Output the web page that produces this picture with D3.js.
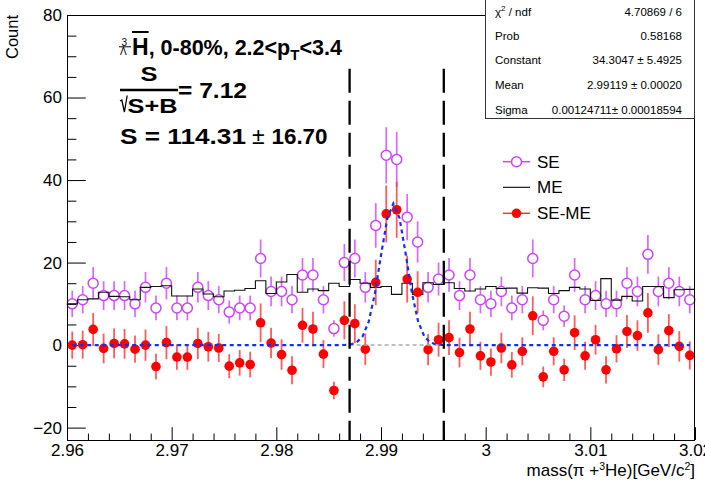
<!DOCTYPE html>
<html>
<head>
<meta charset="utf-8">
<script src="https://cdn.jsdelivr.net/npm/d3@7"></script>
<style>
  html, body { margin: 0; padding: 0; background: #fff; }
  svg { display: block; font-family: "Liberation Sans", Arial, Helvetica, sans-serif; }
</style>
</head>
<body>
<svg id="chart" width="705" height="481"></svg>
<script>
// Histogram binning: 60 bins of 1 MeV between 2.96 and 3.02 GeV/c^2
const xMin = 2.96, xMax = 3.02, nBins = 60;
const yMin = -23, yMax = 80;

// Same-event counts
const seCounts = [10,11,15,12,12,12,10,14,9,15, 9,9,14,12,11,8,9,9,21,13,
                  13,11,17,17,11,4,20,21,14,29, 46,45,31,25,14,16,17,12,17,11,
                  10,13,9,11,21,6,11,7,17,11, 12,10,10,15,13,22,13,15,13,11];
const seErr = [3.2,3.3,3.9,3.5,3.5,3.5,3.2,3.7,3.0,3.9, 3.0,3.0,3.7,3.5,3.3,2.8,3.0,3.0,4.6,3.6,
               3.6,3.3,4.1,4.1,3.3,2.0,4.5,4.6,3.7,5.4, 6.8,6.7,5.6,5.0,3.7,4.0,4.1,3.5,4.1,3.3,
               3.2,3.6,3.0,3.3,4.6,2.4,3.3,2.6,4.1,3.3, 3.5,3.2,3.2,3.9,3.6,4.7,3.6,3.9,3.6,3.3];

// Mixed-event background (normalised)
const meCounts = [10.0,11.0,11.2,12.8,11.8,11.7,11.0,14.0,14.2,14.4, 11.9,11.9,13.6,12.4,11.7,13.1,13.3,13.7,15.6,12.5,
                  15.3,17.1,12.8,13.6,13.2,15.0,14.2,15.9,15.0,14.0, 14.2,12.3,15.0,12.3,15.1,14.7,15.1,13.7,13.1,13.6,
                  14.2,13.7,13.8,12.6,13.9,13.8,12.5,13.2,14.0,13.6, 10.8,16.1,10.9,11.8,10.7,14.2,14.2,11.5,13.4,13.5];

// Background-subtracted signal (SE - ME)
const diffCounts = [0.0,0.1,3.8,-0.8,0.4,0.3,-1.0,0.0,-5.2,0.6, -2.9,-2.9,0.4,-0.4,-0.7,-5.1,-4.3,-4.7,5.4,0.5,
                    -2.3,-6.1,4.8,3.9,-2.2,-11.0,6.0,5.2,-1.0,15.2, 31.8,32.8,16.0,12.8,-1.1,1.3,1.8,-1.8,3.9,-2.6,
                    -4.1,-0.7,-4.8,-1.5,7.1,-7.7,-1.5,-6.0,3.0,-2.6, 1.3,-6.0,-0.9,3.3,2.3,7.8,-1.1,3.5,-0.3,-2.5];
const diffErr = [3.3,3.4,4.0,3.6,3.6,3.6,3.3,3.8,3.1,4.0, 3.1,3.1,3.8,3.6,3.4,2.9,3.1,3.1,4.7,3.7,
                 3.7,3.4,4.2,4.2,3.4,2.1,4.6,4.7,3.8,5.5, 6.9,6.8,5.7,5.1,3.8,4.1,4.2,3.6,4.2,3.4,
                 3.3,3.7,3.1,3.4,4.7,2.5,3.4,2.7,4.2,3.4, 3.6,3.3,3.3,4.0,3.7,4.8,3.7,4.0,3.7,3.4];

// Gaussian fit result
const fitConstant = 34.3047, fitMean = 2.99119, fitSigma = 0.00124711;
const statsRows = [
  ["\u03c7|2| / ndf", "4.70869 / 6"],
  ["Prob", "0.58168"],
  ["Constant", "34.3047 \u00b1 5.4925"],
  ["Mean", "2.99119 \u00b1 0.00020"],
  ["Sigma", "0.00124711\u00b1 0.00018594"]
];

// Signal window and axis ticks
const windowLow = 2.987, windowHigh = 2.996, windowTop = 67;
const xMajorTicks = [2.96, 2.97, 2.98, 2.99, 3.00, 3.01, 3.02];
const yMajorTicks = [-20, 0, 20, 40, 60, 80];
const legendLabels = ["SE", "ME", "SE-ME"];

const seColor = "#cc44ff", diffColor = "#ff0000", fitColor = "#1030ff";

const svg = d3.select("#chart");
const frame = { left: 67, right: 695, top: 15, bottom: 440 };
const x = d3.scaleLinear().domain([xMin, xMax]).range([frame.left, frame.right]);
const y = d3.scaleLinear().domain([yMin, yMax]).range([frame.bottom, frame.top]);
const binW = (xMax - xMin) / nBins;
const centers = d3.range(nBins).map(i => xMin + (i + 0.5) * binW);

// ---- axes (ticks drawn inside the frame) ----
const xMinor = d3.range(0, 31).map(i => xMin + i * 0.002).filter((v, i) => i % 5 !== 0);
const yMinor = d3.range(-20, 81, 5).filter(v => v % 20 !== 0);

const gx = svg.append("g").attr("transform", `translate(0,${frame.bottom})`);
gx.call(d3.axisBottom(x).tickValues(xMajorTicks).tickSize(-12.8).tickPadding(4)
  .tickFormat(d => String(+d.toFixed(2))));
gx.append("g").call(d3.axisBottom(x).tickValues(xMinor).tickSize(-6.4).tickFormat(""));
const gy = svg.append("g").attr("transform", `translate(${frame.left},0)`);
gy.call(d3.axisLeft(y).tickValues(yMajorTicks).tickSize(-18.8).tickPadding(5));
gy.append("g").call(d3.axisLeft(y).tickValues(yMinor).tickSize(-9.4).tickFormat(""));
svg.selectAll(".domain").remove();
svg.selectAll(".tick line").attr("stroke", "#000").attr("stroke-width", 1);
svg.selectAll(".tick text").attr("font-size", 17).attr("fill", "#000")
  .attr("font-family", "Liberation Sans, Arial, sans-serif");

// axis titles
const xt = svg.append("text").attr("x", frame.right).attr("y", 476).attr("text-anchor", "end")
  .attr("font-size", 17);
xt.append("tspan").text("mass(\u03c0 +");
xt.append("tspan").attr("font-size", 10.5).attr("dy", -6).text("3");
xt.append("tspan").attr("dy", 6).text("He)[GeV/c");
xt.append("tspan").attr("font-size", 10.5).attr("dy", -6).text("2");
xt.append("tspan").attr("dy", 6).text("]");
svg.append("text").attr("transform", `translate(18,${frame.top}) rotate(-90)`)
  .attr("text-anchor", "end").attr("font-size", 16.5).text("Count");

// ---- plot content ----
const plot = svg.append("g");

// SE: open circles with vertical error bars
const rSE = 5;
const se = plot.append("g");
centers.forEach((c, i) => {
  const cx = x(c), cy = y(seCounts[i]);
  se.append("line").attr("x1", cx).attr("x2", cx)
    .attr("y1", y(seCounts[i] + seErr[i])).attr("y2", cy - rSE)
    .attr("stroke", seColor).attr("stroke-width", 1.7).attr("stroke-opacity", 0.8);
  se.append("line").attr("x1", cx).attr("x2", cx)
    .attr("y1", cy + rSE).attr("y2", y(seCounts[i] - seErr[i]))
    .attr("stroke", seColor).attr("stroke-width", 1.7).attr("stroke-opacity", 0.8);
  se.append("circle").attr("cx", cx).attr("cy", cy).attr("r", rSE)
    .attr("fill", "none").attr("stroke", seColor).attr("stroke-width", 1.5);
});

// ME: step histogram outline
const mePts = [];
meCounts.forEach((v, i) => {
  mePts.push([x(xMin + i * binW), y(v)]);
  mePts.push([x(xMin + (i + 1) * binW), y(v)]);
});
plot.append("path").attr("d", d3.line()(mePts)).attr("fill", "none")
  .attr("stroke", "#111").attr("stroke-width", 1.1);

// SE-ME: filled circles with error bars
const dm = plot.append("g");
centers.forEach((c, i) => {
  const cx = x(c);
  dm.append("line").attr("x1", cx).attr("x2", cx)
    .attr("y1", y(diffCounts[i] + diffErr[i])).attr("y2", y(diffCounts[i] - diffErr[i]))
    .attr("stroke", "#ff3333").attr("stroke-width", 1.8).attr("stroke-opacity", 0.8);
  dm.append("circle").attr("cx", cx).attr("cy", y(diffCounts[i])).attr("r", 4.8)
    .attr("fill", diffColor);
});

// zero baseline inside the signal window
plot.append("line").attr("x1", x(windowLow)).attr("x2", x(windowHigh))
  .attr("y1", y(0)).attr("y2", y(0))
  .attr("stroke", "#aaaaaa").attr("stroke-width", 1.5).attr("stroke-dasharray", "4,3");

// Gaussian fit curve
const gauss = v => fitConstant * Math.exp(-0.5 * Math.pow((v - fitMean) / fitSigma, 2));
const fitXs = d3.range(0, 101).map(k => centers[0] + k * (centers[nBins - 1] - centers[0]) / 100);
plot.append("path")
  .attr("d", d3.line().x(v => x(v)).y(v => y(gauss(v)))(fitXs))
  .attr("fill", "none").attr("stroke", fitColor).attr("stroke-width", 2.2)
  .attr("stroke-dasharray", "4,3.5");

// signal window edges
[windowLow, windowHigh].forEach(v => {
  plot.append("line").attr("x1", x(v)).attr("x2", x(v))
    .attr("y1", y(windowTop)).attr("y2", y(yMin))
    .attr("stroke", "#000").attr("stroke-width", 2.3).attr("stroke-dasharray", "24,8");
});

// frame
svg.append("rect").attr("x", frame.left + 0.5).attr("y", frame.top + 0.5)
  .attr("width", frame.right - frame.left - 1).attr("height", frame.bottom - frame.top)
  .attr("fill", "none").attr("stroke", "#000").attr("stroke-width", 1);

// ---- annotation ----
const ann = svg.append("g").attr("font-weight", "bold");
ann.append("text").attr("x", 121.5).attr("y", 45.5).attr("font-size", 10)
  .attr("font-weight", "normal").text("3");
ann.append("text").attr("x", 120).attr("y", 55).attr("font-size", 10)
  .attr("font-weight", "normal").text("\u039b");
ann.append("line").attr("x1", 119).attr("x2", 131).attr("y1", 46.8).attr("y2", 46.8)
  .attr("stroke", "#000").attr("stroke-width", 1);
const hText = ann.append("text").attr("x", 132).attr("y", 55).attr("font-size", 23).text("H");
const hW = hText.node().getComputedTextLength();
ann.append("line").attr("x1", 132).attr("x2", 132 + hW).attr("y1", 32).attr("y2", 32)
  .attr("stroke", "#000").attr("stroke-width", 2);
const l1 = ann.append("text").attr("x", 132 + hW).attr("y", 55).attr("font-size", 21.5);
l1.append("tspan").text(", 0-80%, 2.2<p");
l1.append("tspan").attr("font-size", 15).attr("dy", 5).text("T");
l1.append("tspan").attr("dy", -5).text("<3.4");

// S / sqrt(S+B) fraction
ann.append("text").attr("x", 149).attr("y", 80.5).attr("text-anchor", "middle")
  .attr("font-size", 20).attr("textLength", 17).attr("lengthAdjust", "spacingAndGlyphs").text("S");
ann.append("line").attr("x1", 120).attr("x2", 178).attr("y1", 90).attr("y2", 90)
  .attr("stroke", "#000").attr("stroke-width", 2.6);
ann.append("path").attr("d", "M120,101 L121.8,100 L124.4,112 L127.2,95.5")
  .attr("fill", "none").attr("stroke", "#000").attr("stroke-width", 1.3);
ann.append("text").attr("x", 127.5).attr("y", 112.5).attr("font-size", 20)
  .attr("textLength", 50).attr("lengthAdjust", "spacingAndGlyphs").text("S+B");
ann.append("text").attr("x", 178).attr("y", 97.5).attr("font-size", 22.5)
  .attr("textLength", 69).attr("lengthAdjust", "spacingAndGlyphs").text("= 7.12");

const l3 = ann.append("text").attr("x", 120).attr("y", 143.5).attr("font-size", 22.5);
l3.append("tspan").attr("textLength", 126).attr("lengthAdjust", "spacingAndGlyphs").text("S = 114.31");
l3.append("tspan").attr("x", 252).attr("font-weight", "normal").attr("font-size", 23).text("\u00b1");
l3.append("tspan").attr("x", 271.5).attr("textLength", 56).attr("lengthAdjust", "spacingAndGlyphs").text("16.70");

// ---- legend ----
const leg = svg.append("g");
const legY = [161.7, 187.3, 213.3];
const lx0 = 503, lx1 = 530, lxc = 516.5;
leg.append("line").attr("x1", lx0).attr("x2", lxc - 5).attr("y1", legY[0]).attr("y2", legY[0])
  .attr("stroke", seColor).attr("stroke-width", 1.5);
leg.append("line").attr("x1", lxc + 5).attr("x2", lx1).attr("y1", legY[0]).attr("y2", legY[0])
  .attr("stroke", seColor).attr("stroke-width", 1.5);
leg.append("circle").attr("cx", lxc).attr("cy", legY[0]).attr("r", 5)
  .attr("fill", "none").attr("stroke", seColor).attr("stroke-width", 1.5);
leg.append("line").attr("x1", lx0).attr("x2", lx1).attr("y1", legY[1]).attr("y2", legY[1])
  .attr("stroke", "#000").attr("stroke-width", 1.1);
leg.append("line").attr("x1", lx0).attr("x2", lx1).attr("y1", legY[2]).attr("y2", legY[2])
  .attr("stroke", "#ff3333").attr("stroke-width", 1.5);
leg.append("circle").attr("cx", lxc).attr("cy", legY[2]).attr("r", 4.8).attr("fill", diffColor);
legendLabels.forEach((t, i) => {
  leg.append("text").attr("x", 537).attr("y", legY[i] + 6).attr("font-size", 17).text(t);
});

// ---- fit statistics box ----
const st = svg.append("g");
st.append("rect").attr("x", 485.5).attr("y", -1).attr("width", 209).attr("height", 119.5)
  .attr("fill", "#fff").attr("stroke", "#333").attr("stroke-width", 1);
const rowY = [11.5, 35.5, 60, 85, 109.5];
statsRows.forEach((r, i) => {
  const lab = st.append("text").attr("x", 495).attr("y", rowY[i] + 4).attr("font-size", 11.5);
  const parts = r[0].split("|");
  lab.append("tspan").text(parts[0]);
  if (parts.length > 1) {
    lab.append("tspan").attr("font-size", 8).attr("dy", -5).text(parts[1]);
    lab.append("tspan").attr("dy", 5).text(parts[2]);
  }
  st.append("text").attr("x", 682).attr("y", rowY[i] + 4).attr("font-size", 11.5)
    .attr("text-anchor", "end").text(r[1]);
});
</script>
</body>
</html>
